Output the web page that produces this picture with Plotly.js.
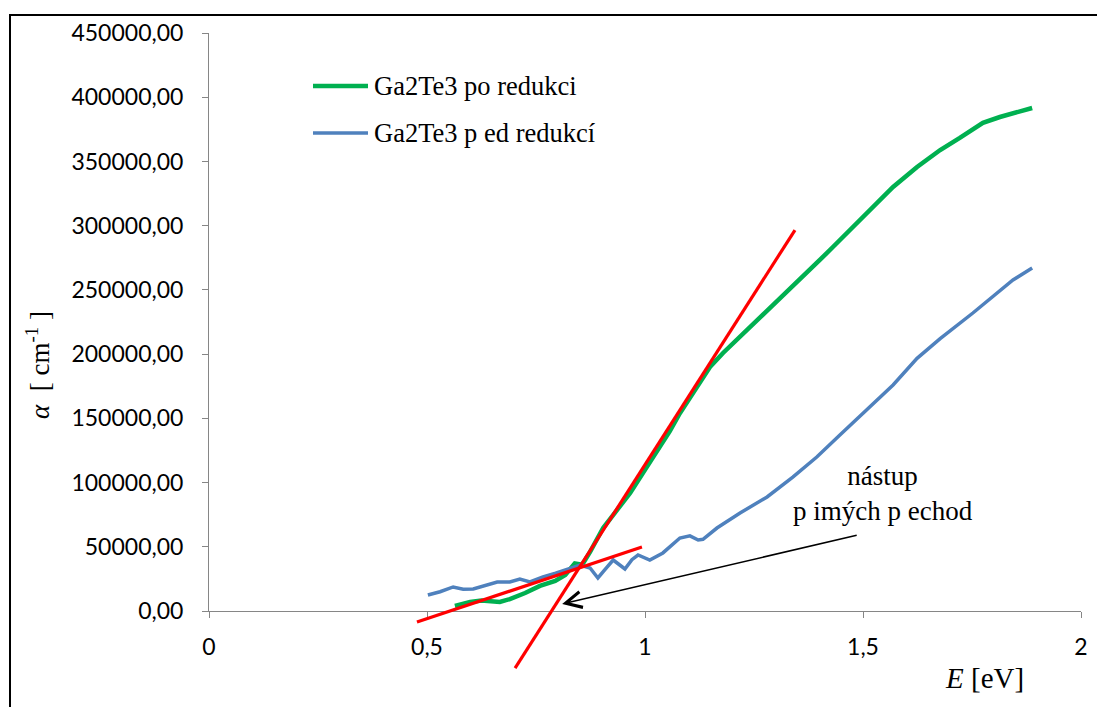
<!DOCTYPE html>
<html>
<head>
<meta charset="utf-8">
<script src="https://cdn.plot.ly/plotly-3.0.1.min.js"></script>
<style>
  html, body { margin: 0; padding: 0; background: #ffffff; }
  #wrap { position: relative; width: 1097px; height: 707px; overflow: hidden; }
  #chart { position: absolute; left: 0; top: 0; width: 1097px; height: 707px; }
  #frame { position: absolute; left: 9px; top: 14px; width: 1200px; height: 800px;
           border-left: 2px solid #000; border-top: 2px solid #000; pointer-events: none; }
</style>
</head>
<body>
<div id="wrap">
  <div id="chart"></div>
  <div id="frame"></div>
</div>
<script>
// Absorption coefficient of Ga2Te3 versus photon energy
const seriesNames = ["Ga2Te3 po redukci", "Ga2Te3 p ed redukcí"];
const seriesColors = ["#00B050", "#4F81BD"];

// after reduction (green)
const energyAfter = [0.564, 0.599, 0.625, 0.644, 0.667, 0.690, 0.725, 0.759, 0.794, 0.817,
  0.839, 0.856, 0.874, 0.904, 0.935, 0.966, 1.000, 1.034, 1.057, 1.080, 1.115, 1.149, 1.179,
  1.220, 1.264, 1.300, 1.339, 1.356, 1.401, 1.431, 1.509, 1.569, 1.624, 1.677, 1.722, 1.775,
  1.814, 1.850, 1.888];
const alphaAfter = [3900, 7000, 8200, 7800, 7000, 9300, 14000, 19500, 23400, 28000,
  37000, 36000, 46000, 64600, 78000, 91900, 110000, 127700, 140000, 154000, 172000, 190000, 200900,
  214100, 228100, 240000, 252300, 257700, 273300, 283400, 309600, 330100, 345700, 358900, 368300, 380000,
  384600, 388000, 391600];

// before reduction (blue)
const energyBefore = [0.502, 0.530, 0.560, 0.583, 0.606, 0.635, 0.661, 0.690, 0.713, 0.736,
  0.766, 0.795, 0.821, 0.851, 0.874, 0.892, 0.910, 0.927, 0.954, 0.970, 0.984, 1.011, 1.041,
  1.060, 1.080, 1.103, 1.122, 1.133, 1.165, 1.218, 1.280, 1.339, 1.394, 1.447, 1.509, 1.569,
  1.624, 1.677, 1.752, 1.814, 1.844, 1.888];
const alphaBefore = [12500, 15000, 18700, 17000, 17100, 20000, 22600, 22600, 24900, 22600,
  26500, 29500, 32700, 35800, 33500, 25700, 33000, 39700, 32700, 40000, 43600, 39700, 45200,
  51000, 56800, 58500, 55300, 55800, 64600, 76300, 88800, 104300, 119900, 137000, 156500, 176000,
  196700, 212000, 232000, 249900, 257700, 267000];

// linear fits of the absorption edge
const fitSteepE = [0.702, 1.344];
const fitSteepA = [-44400, 296600];
const fitShallowE = [0.477, 0.993];
const fitShallowA = [-8600, 49800];

// arrow marking the onset of direct transitions (tail -> head)
const arrowE = [1.489, 0.810];
const arrowA = [59200, 5450];
const arrowLabel = "nástup<br>p imých p echod";

// axes
const xTickVals = [0, 0.5, 1, 1.5, 2];
const xTickText = ["0", "0,5", "1", "1,5", "2"];
const yTickVals = [0, 50000, 100000, 150000, 200000, 250000, 300000, 350000, 400000, 450000];
const yTickText = ["0,00", "50000,00", "100000,00", "150000,00", "200000,00", "250000,00",
  "300000,00", "350000,00", "400000,00", "450000,00"];
const yMax = 450000;

// pixel layout of the plotting area
const W = 1097, H = 707;
const mL = 209, mR = 16, mT = 33, mB = 7;
const axisBottomPx = 611;                 // pixel row of alpha = 0
const paperW = W - mL - mR;
const paperH = H - mT - mB;
const mainBottom = (H - mB - axisBottomPx) / paperH;
// the fit lines live on a taller subplot with the same scale so they may run below the axis
const fitLow = -yMax * (H - mB - axisBottomPx) / (axisBottomPx - mT);
const px = (p) => (p - mL) / paperW;          // pixel column -> paper x
const py = (p) => (H - mB - p) / paperH;      // pixel row -> paper y

const serif = "Liberation Serif, Times New Roman, serif";
const sans = "Lato, Carlito, Calibri, sans-serif";

const traces = [
  { x: energyAfter, y: alphaAfter, name: seriesNames[0], type: "scatter", mode: "lines",
    xaxis: "x", yaxis: "y", showlegend: false,
    line: { color: seriesColors[0], width: 4.5 } },
  { x: energyBefore, y: alphaBefore, name: seriesNames[1], type: "scatter", mode: "lines",
    xaxis: "x", yaxis: "y", showlegend: false,
    line: { color: seriesColors[1], width: 3.5 } },
  { x: fitSteepE, y: fitSteepA, type: "scatter", mode: "lines", showlegend: false,
    xaxis: "x", yaxis: "y2", line: { color: "#FF0000", width: 3.2 } },
  { x: fitShallowE, y: fitShallowA, type: "scatter", mode: "lines", showlegend: false,
    xaxis: "x", yaxis: "y2", line: { color: "#FF0000", width: 3.2 } }
];

// legend entries drawn as a line sample plus a label
const legendRows = [86, 133];
const legendShapes = seriesNames.map((n, i) => ({
  type: "line", xref: "paper", yref: "paper",
  x0: px(313), x1: px(368), y0: py(legendRows[i]), y1: py(legendRows[i]),
  line: { color: seriesColors[i], width: i === 0 ? 4.5 : 3.5 }
}));
const legendTexts = seriesNames.map((n, i) => ({
  xref: "paper", yref: "paper", x: px(372), y: py(legendRows[i]),
  xanchor: "left", yanchor: "middle", text: n, showarrow: false,
  font: { family: serif, size: 26.5, color: "#000" }
}));

const layout = {
  width: W, height: H,
  margin: { l: mL, r: mR, t: mT, b: mB, pad: 0 },
  paper_bgcolor: "rgba(0,0,0,0)",
  plot_bgcolor: "rgba(0,0,0,0)",
  showlegend: false,
  xaxis: {
    range: [0, 2], domain: [0, 1], anchor: "y",
    tickvals: xTickVals, ticktext: xTickText,
    showgrid: false, zeroline: false,
    showline: true, linecolor: "#868686", linewidth: 1,
    ticks: "outside", ticklen: 6, tickcolor: "#868686", tickwidth: 1,
    ticklabelstandoff: 9,
    tickfont: { family: sans, size: 23, color: "#000" }
  },
  yaxis: {
    range: [0, yMax], domain: [mainBottom, 1], anchor: "x",
    tickvals: yTickVals, ticktext: yTickText,
    showgrid: false, zeroline: false,
    showline: true, linecolor: "#868686", linewidth: 1,
    ticks: "outside", ticklen: 6, tickcolor: "#868686", tickwidth: 1,
    ticklabelstandoff: 14,
    tickfont: { family: sans, size: 23, color: "#000" }
  },
  yaxis2: {
    range: [fitLow, yMax], domain: [0, 1], anchor: "x", visible: false
  },
  shapes: legendShapes,
  annotations: legendTexts.concat([
    { xref: "x", yref: "y", axref: "x", ayref: "y",
      x: arrowE[1], y: arrowA[1], ax: arrowE[0], ay: arrowA[0],
      text: "", showarrow: true, arrowhead: 5, arrowsize: 2.1, arrowwidth: 1.5,
      arrowcolor: "#000", standoff: 0, startstandoff: 0 },
    { xref: "paper", yref: "paper", x: px(883), y: py(493), text: arrowLabel, showarrow: false,
      xanchor: "center", yanchor: "middle", align: "center",
      font: { family: serif, size: 27, color: "#000" } },
    { xref: "paper", yref: "paper", x: px(984), y: py(678),
      xanchor: "center", yanchor: "middle", text: "<i>E</i> [eV]", showarrow: false,
      font: { family: serif, size: 29, color: "#000" } },
    { xref: "paper", yref: "paper", x: px(38), y: py(365),
      xanchor: "center", yanchor: "middle", textangle: -90,
      text: "<i>α</i>  [ cm<sup>-1</sup> ]", showarrow: false,
      font: { family: serif, size: 27, color: "#000" } }
  ])
};

Plotly.newPlot("chart", traces, layout, { staticPlot: true, displayModeBar: false });
</script>
</body>
</html>
